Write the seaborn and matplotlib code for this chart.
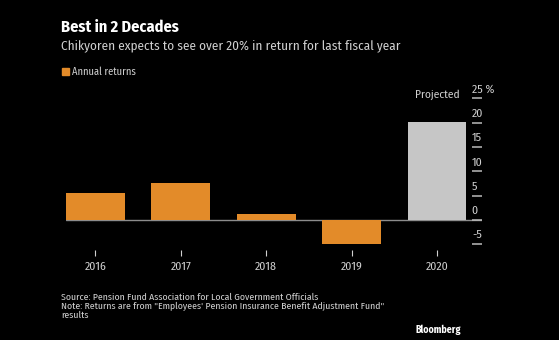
import matplotlib
matplotlib.use("Agg")
import matplotlib.pyplot as plt
from matplotlib import font_manager
import seaborn as sns
import pandas as pd

years = ["2016", "2017", "2018", "2019", "2020"]
returns = [5.6, 7.5, 1.3, -4.9, 20.2]
kinds = ["Annual returns", "Annual returns", "Annual returns", "Annual returns", "Projected"]
ytick_values = [25, 20, 15, 10, 5, 0, -5]
ytick_labels = ["25 %", "20", "15", "10", "5", "0", "-5"]

title = "Best in 2 Decades"
subtitle = "Chikyoren expects to see over 20% in return for last fiscal year"
source = "Source: Pension Fund Association for Local Government Officials"
note = "Note: Returns are from \"Employees' Pension Insurance Benefit Adjustment Fund\"\nresults"

ORANGE = "#E38B29"
GREY_BAR = "#C6C6C6"
TEXT = "#D0D0D0"
BG = "#000000"

sns.set_theme(style="dark")
names = {f.name for f in font_manager.fontManager.ttflist}
candidates = ["Fira Sans Condensed", "Roboto Condensed", "PT Sans Narrow",
              "Ubuntu Condensed", "Archivo Narrow", "Liberation Sans Narrow"]
family = [c for c in candidates if c in names][:1] + ["DejaVu Sans"]
plt.rcParams["font.family"] = family

df = pd.DataFrame({"year": years, "ret": returns, "kind": kinds})

fig = plt.figure(figsize=(5.59, 3.40), dpi=100, facecolor=BG)
ax = fig.add_axes([66 / 559, 1 - 250 / 340, (482 - 66) / 559, (250 - 98.5) / 340])
ax.set_facecolor(BG)

sns.barplot(data=df, x="year", y="ret", hue="kind",
            palette={"Annual returns": ORANGE, "Projected": GREY_BAR},
            dodge=False, width=0.69, legend=False, ax=ax, saturation=1,
            linewidth=0, edgecolor="none")

ax.set_xlim(-0.345, 4.527)
ax.set_ylim(-6.2, 25)
for s in ax.spines.values():
    s.set_visible(False)
ax.grid(False)
ax.axhline(0, color="#8C8C8C", lw=1.0, zorder=0.5)
ax.set_xlabel("")
ax.set_ylabel("")

# x ticks: short marks below the plot
ax.tick_params(axis="x", colors=TEXT, direction="out", length=4, width=0.8,
               pad=4, labelsize=8.5, bottom=True, labelcolor=TEXT)

# y axis on the right: short dashes inside, labels sitting above them
ax.set_yticks(ytick_values)
ax.set_yticklabels([])
ax.tick_params(axis="y", left=False, right=True, direction="in", length=7.5,
               width=1.1, colors="#BBBBBB", labelleft=False, labelright=False)
for v, lab in zip(ytick_values, ytick_labels):
    ax.annotate(lab, xy=(1, v), xycoords=("axes fraction", "data"),
                xytext=(-7.3, 2.5), textcoords="offset points",
                ha="left", va="bottom", color=TEXT, fontsize=8.5,
                annotation_clip=False)

# label for the projected bar
ax.annotate("Projected", xy=(4, 25), xycoords="data", xytext=(0, 3),
            textcoords="offset points", ha="center", va="center",
            color=TEXT, fontsize=8.2, annotation_clip=False)

# titles
fig.text(61 / 559, 1 - 27 / 340, title, color="white", fontsize=11.7,
         fontweight="bold", va="center", ha="left")
fig.text(61 / 559, 1 - 46 / 340, subtitle, color=TEXT, fontsize=9.5,
         va="center", ha="left")

# legend
fig.patches.append(plt.Rectangle((62 / 559, 1 - 75 / 340), 7 / 559, 7 / 340,
                                 transform=fig.transFigure, color=ORANGE))
fig.text(72 / 559, 1 - 71.5 / 340, "Annual returns", color=TEXT, fontsize=7.5,
         va="center", ha="left")

# footer
fig.text(61 / 559, 1 - 297 / 340, source, color=TEXT, fontsize=7,
         va="center", ha="left")
fig.text(61 / 559, 1 - 302 / 340, note, color=TEXT, fontsize=7,
         va="top", ha="left", linespacing=0.95)
fig.text(461 / 559, 1 - 329.5 / 340, "Bloomberg", color="white", fontsize=7.2,
         fontweight="bold", va="center", ha="right")

fig.savefig("out.png", dpi=100, facecolor=BG)
